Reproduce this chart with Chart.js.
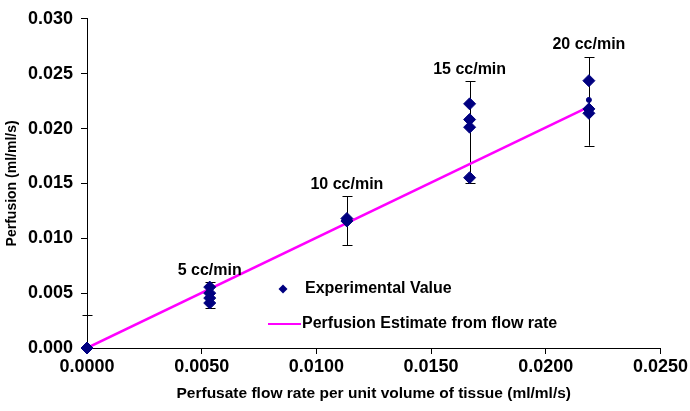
<!DOCTYPE html>
<html>
<head>
<meta charset="utf-8">
<script src="https://cdn.jsdelivr.net/npm/chart.js@4.4.1/dist/chart.umd.min.js"></script>
<style>
  body { margin: 0; background: #fff; }
  #wrap { width: 690px; height: 411px; position: relative; }
</style>
</head>
<body>
<div id="wrap"><canvas id="grafico"></canvas></div>
<script>
// valores
const flowRate = [0, 0.00535, 0.00535, 0.00535, 0.00535, 0.01133, 0.01133,
    0.01668, 0.01668, 0.01668, 0.01668, 0.02188, 0.02188, 0.02188];
const perfusion = [0, 0.00555, 0.0050, 0.00455, 0.0041, 0.01157, 0.0118,
    0.02225, 0.02082, 0.02012, 0.01552, 0.02436, 0.02179, 0.02139];
const meanFlow = [0.02188];
const meanPerf = [0.02261];
const fitX = [0, 0.0218];
const fitY = [0, 0.0219];
const barX = [0, 0.00535, 0.01133, 0.01668, 0.02188];
const barLow = [-0.003, 0.00364, 0.00936, 0.01503, 0.01843];
const barHigh = [0.003, 0.0060, 0.01382, 0.0243, 0.02655];
const rateLabels = ['', '5 cc/min', '10 cc/min', '15 cc/min', '20 cc/min'];
const xTicks = [0, 0.005, 0.01, 0.015, 0.02, 0.025];
const yTicks = [0, 0.005, 0.01, 0.015, 0.02, 0.025, 0.03];

const fonte = "'Liberation Sans', Arial, sans-serif";
const azul = '#000080';
const magenta = '#ff00ff';

const pontos = (xs, ys) => xs.map((x, i) => ({ x, y: ys[i] }));

// barras de erro + rotulos das vazoes
const barrasErro = {
    id: 'barrasErro',
    beforeDatasetsDraw(chart) {
        const { ctx, scales: { x, y } } = chart;
        ctx.save();
        ctx.strokeStyle = '#000';
        ctx.lineWidth = 1;
        barX.forEach((bx, i) => {
            const px = Math.round(x.getPixelForValue(bx)) + 0.5;
            const low = Math.max(barLow[i], y.min);
            const pLow = y.getPixelForValue(low);
            const pHigh = Math.round(y.getPixelForValue(barHigh[i])) + 0.5;
            ctx.beginPath();
            ctx.moveTo(px, pLow);
            ctx.lineTo(px, pHigh);
            ctx.moveTo(px - 5, pHigh);
            ctx.lineTo(px + 5, pHigh);
            if (barLow[i] >= y.min) {
                const pl = Math.round(pLow) + 0.5;
                ctx.moveTo(px - 5, pl);
                ctx.lineTo(px + 5, pl);
            }
            ctx.stroke();
        });
        ctx.restore();
    },
    afterDatasetsDraw(chart) {
        const { ctx, scales: { x, y } } = chart;
        ctx.save();
        ctx.fillStyle = '#000';
        ctx.font = 'bold 16px ' + fonte;
        ctx.textAlign = 'center';
        ctx.textBaseline = 'middle';
        rateLabels.forEach((txt, i) => {
            if (!txt) return;
            ctx.fillText(txt, x.getPixelForValue(barX[i]), y.getPixelForValue(barHigh[i]) - 12);
        });
        ctx.restore();
    }
};

// legenda dentro da area do grafico
const legendaInterna = {
    id: 'legendaInterna',
    afterDraw(chart) {
        const { ctx } = chart;
        const ds = chart.data.datasets;
        ctx.save();
        ctx.font = 'bold 16px ' + fonte;
        ctx.textBaseline = 'middle';
        ctx.textAlign = 'left';
        ctx.fillStyle = azul;
        ctx.beginPath();
        ctx.moveTo(283, 284.5);
        ctx.lineTo(287.5, 289);
        ctx.lineTo(283, 293.5);
        ctx.lineTo(278.5, 289);
        ctx.closePath();
        ctx.fill();
        ctx.fillStyle = '#000';
        ctx.fillText(ds[0].label, 305, 289);
        ctx.strokeStyle = magenta;
        ctx.lineWidth = 2;
        ctx.beginPath();
        ctx.moveTo(268, 324);
        ctx.lineTo(301, 324);
        ctx.stroke();
        ctx.fillText(ds[2].label, 302, 324);
        ctx.restore();
    }
};

new Chart(document.getElementById('grafico'), {
    type: 'scatter',
    data: {
        datasets: [{
            label: 'Experimental Value',
            data: pontos(flowRate, perfusion),
            backgroundColor: azul,
            borderColor: azul,
            pointStyle: 'rectRot',
            pointRadius: 6,
            clip: false
        }, {
            label: 'mean',
            data: pontos(meanFlow, meanPerf),
            backgroundColor: azul,
            borderColor: azul,
            pointStyle: 'circle',
            pointRadius: 2.5
        }, {
            label: 'Perfusion Estimate from flow rate',
            data: pontos(fitX, fitY),
            showLine: true,
            borderColor: magenta,
            borderWidth: 2.5,
            pointRadius: 0
        }]
    },
    options: {
        responsive: true,
        maintainAspectRatio: false,
        animation: false,
        layout: { padding: { top: 17, right: 29, left: 0, bottom: 0 } },
        plugins: {
            legend: { display: false },
            tooltip: { enabled: false }
        },
        scales: {
            x: {
                type: 'linear',
                min: 0,
                max: 0.025,
                afterBuildTicks: s => { s.ticks = xTicks.map(v => ({ value: v })); },
                afterFit: s => { s.height = 63; },
                grid: { drawOnChartArea: false, drawTicks: true, tickLength: 6, color: '#000' },
                border: { display: true, color: '#000', width: 1 },
                ticks: {
                    color: '#000',
                    padding: 2,
                    maxRotation: 0,
                    font: { family: fonte, size: 18, weight: 'bold' },
                    callback: v => v.toFixed(4)
                },
                title: {
                    display: true,
                    text: 'Perfusate flow rate per unit volume of tissue (ml/ml/s)',
                    color: '#000',
                    padding: { top: 2, bottom: 8 },
                    font: { family: fonte, size: 15.5, weight: 'bold' }
                }
            },
            y: {
                type: 'linear',
                min: 0,
                max: 0.03,
                afterBuildTicks: s => { s.ticks = yTicks.map(v => ({ value: v })); },
                afterFit: s => { s.width = 87; },
                grid: { drawOnChartArea: false, drawTicks: true, tickLength: 6, color: '#000' },
                border: { display: true, color: '#000', width: 1 },
                ticks: {
                    color: '#000',
                    padding: 8,
                    font: { family: fonte, size: 18, weight: 'bold' },
                    callback: v => v.toFixed(3)
                },
                title: {
                    display: true,
                    text: 'Perfusion (ml/ml/s)',
                    color: '#000',
                    padding: 4,
                    font: { family: fonte, size: 14, weight: 'bold' }
                }
            }
        }
    },
    plugins: [barrasErro, legendaInterna]
});
</script>
</body>
</html>
